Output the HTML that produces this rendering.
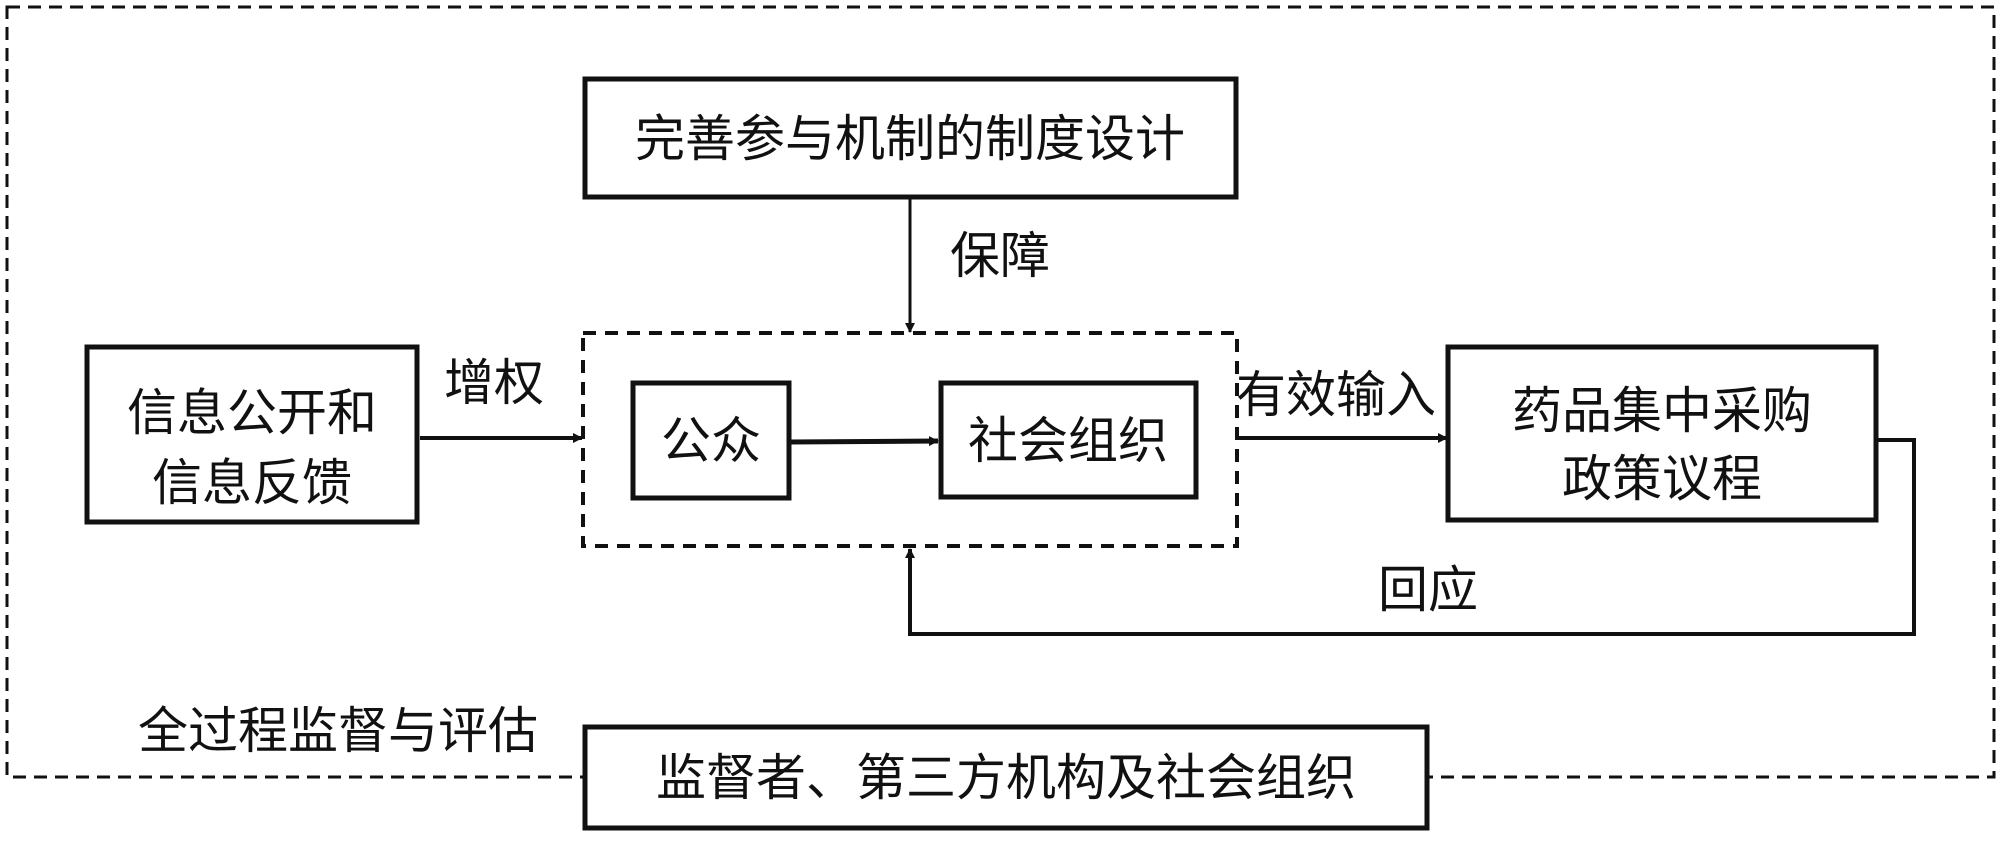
<!DOCTYPE html>
<html><head><meta charset="utf-8"><style>
html,body{margin:0;padding:0;background:#fff;}
svg text{font-family:"Liberation Sans","Noto Sans CJK SC","WenQuanYi Zen Hei",sans-serif;fill:#111;}
</style></head><body>
<svg width="2000" height="841" viewBox="0 0 2000 841" xmlns="http://www.w3.org/2000/svg">
<defs>
<marker id="ah" markerWidth="10" markerHeight="10" refX="9" refY="5" orient="auto" markerUnits="userSpaceOnUse">
<path d="M0,0 L10,5 L0,10 Z" fill="#111"/>
</marker>
</defs>
<!-- outer dashed -->
<rect x="7" y="7" width="1987" height="770" fill="none" stroke="#111" stroke-width="3" stroke-dasharray="13,8"/>
<!-- top box -->
<rect x="584" y="186" width="653" height="12" fill="none"/>
<rect x="585" y="79" width="651" height="118" fill="#fff" stroke="#111" stroke-width="5"/>
<text x="910" y="156" font-size="50" text-anchor="middle">完善参与机制的制度设计</text>
<!-- 保障 arrow -->
<line x1="910" y1="198" x2="910" y2="332" stroke="#111" stroke-width="3" marker-end="url(#ah)"/>
<text x="950" y="273" font-size="50">保障</text>
<!-- inner dashed -->
<rect x="583" y="333" width="654" height="213" fill="none" stroke="#111" stroke-width="4" stroke-dasharray="13,9"/>
<!-- left box -->
<rect x="87" y="347" width="330" height="175" fill="#fff" stroke="#111" stroke-width="5"/>
<text x="252" y="430" font-size="50" text-anchor="middle">信息公开和</text>
<text x="252" y="500" font-size="50" text-anchor="middle">信息反馈</text>
<!-- 增权 -->
<line x1="420" y1="438" x2="582" y2="438" stroke="#111" stroke-width="4" marker-end="url(#ah)"/>
<text x="444" y="400" font-size="50">增权</text>
<!-- 公众 -->
<rect x="633" y="383" width="156" height="115" fill="#fff" stroke="#111" stroke-width="5"/>
<text x="711" y="458" font-size="50" text-anchor="middle">公众</text>
<line x1="790" y1="442" x2="938" y2="441" stroke="#111" stroke-width="5" marker-end="url(#ah)"/>
<!-- 社会组织 -->
<rect x="941" y="383" width="255" height="114" fill="#fff" stroke="#111" stroke-width="5"/>
<text x="1068" y="458" font-size="50" text-anchor="middle">社会组织</text>
<!-- 有效输入 -->
<line x1="1237" y1="438" x2="1447" y2="438" stroke="#111" stroke-width="4" marker-end="url(#ah)"/>
<text x="1236" y="412" font-size="50">有效输入</text>
<!-- 药品 box -->
<rect x="1448" y="347" width="428" height="173" fill="#fff" stroke="#111" stroke-width="5"/>
<text x="1662" y="428" font-size="50" text-anchor="middle">药品集中采购</text>
<text x="1662" y="496" font-size="50" text-anchor="middle">政策议程</text>
<!-- feedback -->
<polyline points="1876,440 1914,440 1914,634 910,634 910,549" fill="none" stroke="#111" stroke-width="4" marker-end="url(#ah)"/>
<text x="1378" y="607" font-size="50">回应</text>
<!-- bottom -->
<text x="138" y="748" font-size="50">全过程监督与评估</text>
<rect x="585" y="727" width="842" height="101" fill="#fff" stroke="#111" stroke-width="5"/>
<text x="1006" y="795" font-size="50" text-anchor="middle">监督者、第三方机构及社会组织</text>
</svg>
</body></html>
